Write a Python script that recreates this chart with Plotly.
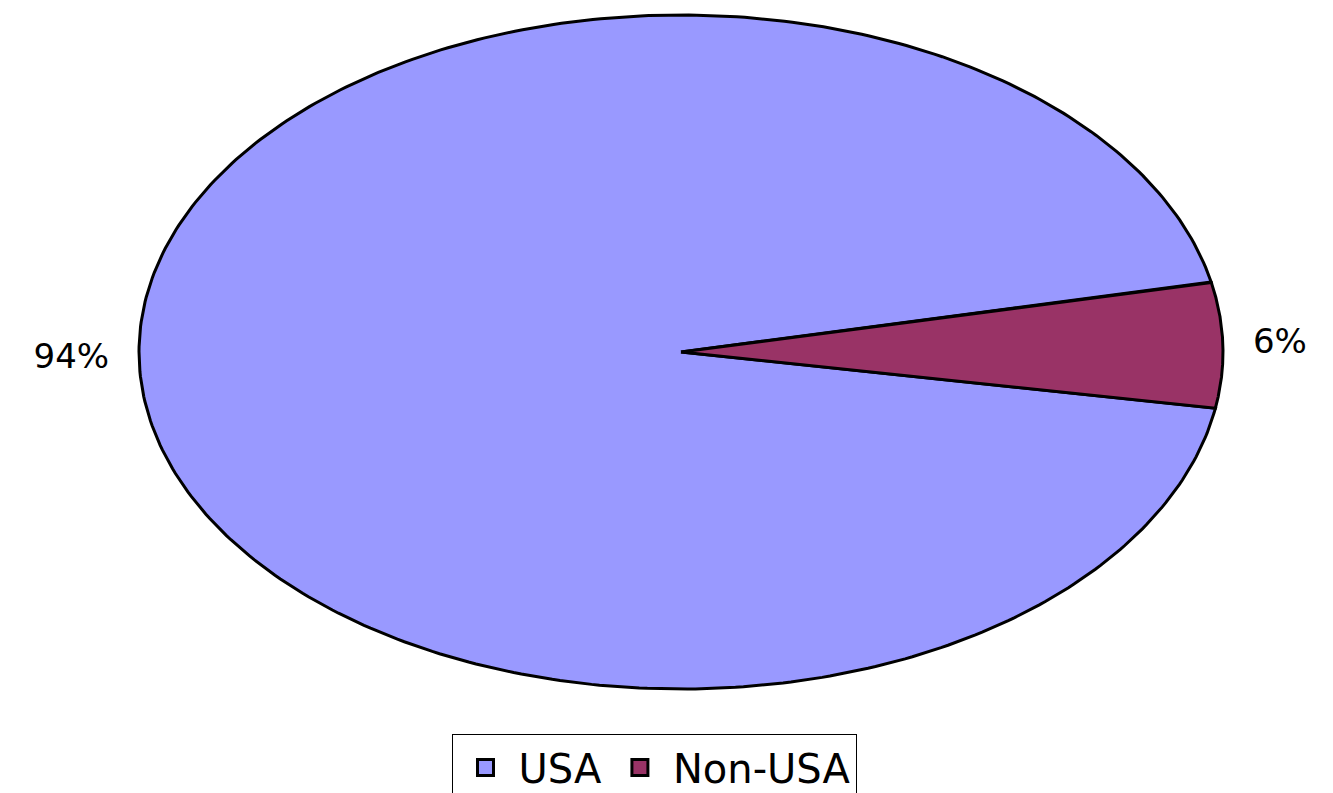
import numpy as np
import plotly.graph_objects as go

# ---- data ----
labels = ["USA", "Non-USA"]
values = [94, 6]
colors = ["#9999FF", "#993366"]

# ---- layout / geometry (styles, not data) ----
W, H = 1333, 793
PAGE_OFF = 8             # browser body margin shifts the figure
CX, CY = 681, 352        # ellipse centre (px, screen)
RX, RY = 542, 337        # ellipse radii (px)
START_DEG = -9.6         # angle where first slice starts (math degrees), drawn clockwise
LABEL_GAP = 30
FONT = "DejaVu Sans, Liberation Sans, Arial"

total = float(sum(values))
fig = go.Figure()

cum = 0.0
for lab, v, col in zip(labels, values, colors):
    a0 = START_DEG - cum / total * 360.0
    a1 = a0 - v / total * 360.0
    t = np.radians(np.linspace(a0, a1, 400))
    xs = np.concatenate([[CX], CX + RX * np.cos(t), [CX]])
    ys = np.concatenate([[CY], CY - RY * np.sin(t), [CY]])
    fig.add_trace(go.Scatter(
        x=xs, y=ys, mode="lines", fill="toself", fillcolor=col,
        line=dict(color="black", width=3), showlegend=False, hoverinfo="skip",
    ))
    # percentage label at the middle angle, outside the ellipse
    am = np.radians((a0 + a1) / 2.0)
    lx = CX + RX * np.cos(am) + np.sign(np.cos(am)) * LABEL_GAP
    ly = CY - RY * np.sin(am)
    fig.add_trace(go.Scatter(
        x=[lx], y=[ly], mode="text", text=[f"{v / total * 100:.0f}%"],
        textposition="middle right" if np.cos(am) >= 0 else "middle left",
        textfont=dict(family=FONT, size=34, color="black"),
        showlegend=False, hoverinfo="skip",
    ))
    cum += v

# legend entries
for lab, col in zip(labels, colors):
    fig.add_trace(go.Scatter(
        x=[None], y=[None], mode="markers", name=lab,
        marker=dict(symbol="square", size=16, color=col,
                    line=dict(color="black", width=3)),
    ))

fig.update_layout(
    width=W, height=H,
    margin=dict(l=0, r=0, t=0, b=0),
    paper_bgcolor="white", plot_bgcolor="white",
    xaxis=dict(range=[PAGE_OFF, W + PAGE_OFF], visible=False, fixedrange=True),
    yaxis=dict(range=[H + PAGE_OFF, PAGE_OFF], visible=False, fixedrange=True),
    showlegend=True,
    legend=dict(
        orientation="h", x=(654 - PAGE_OFF) / W, xanchor="center",
        y=1 - (734 - PAGE_OFF) / H, yanchor="top",
        bordercolor="black", borderwidth=1, bgcolor="white",
        font=dict(family=FONT, size=40, color="black"),
        itemwidth=56,
    ),
)

fig.write_html("out.html")
